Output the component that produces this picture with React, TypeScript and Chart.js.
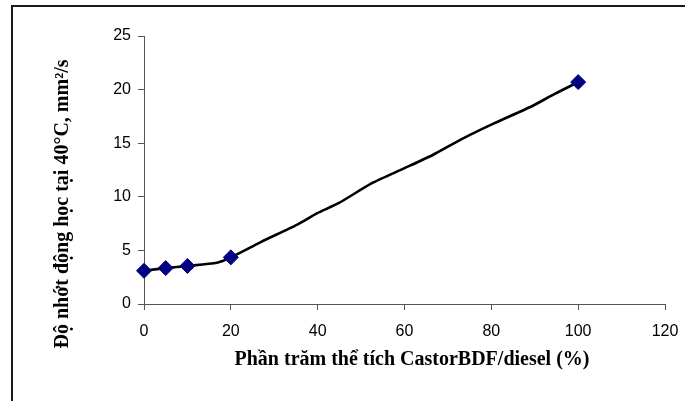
import React, { useEffect, useRef } from "react";
import { Chart, registerables } from "chart.js";

Chart.register(...registerables);

// Measured blends (% CastorBDF in diesel) and kinematic viscosity at 40°C (mm²/s)
const blendPercent = [0, 5, 10, 20, 100];
const viscosity = [3.1, 3.35, 3.55, 4.35, 20.7];

// Points of the drawn (smoothed) curve
const curvePercent = [0, 5, 10, 16.8, 20, 27, 35.3, 39.8, 44.8, 52.4, 59.9, 66.5, 73.5, 80.6, 89.1, 94.6, 100];
const curveViscosity = [3.1, 3.35, 3.55, 3.85, 4.35, 5.8, 7.4, 8.45, 9.4, 11.25, 12.65, 13.9, 15.45, 16.85, 18.4, 19.6, 20.7];

const xTicks = [0, 20, 40, 60, 80, 100, 120];
const yTicks = [0, 5, 10, 15, 20, 25];

const xTitle = "Phần trăm thể tích CastorBDF/diesel (%)";
const yTitle = "Độ nhớt động học tại 40°C, mm²/s";

const framePlugin = {
  id: "frameAndTitles",
  beforeDraw(chart: any) {
    const ctx = chart.ctx;
    ctx.save();
    ctx.fillStyle = "#ffffff";
    ctx.fillRect(0, 0, chart.width, chart.height);
    ctx.strokeStyle = "#1a1a1a";
    ctx.lineWidth = 2;
    ctx.beginPath();
    ctx.moveTo(12, chart.height);
    ctx.lineTo(12, 6);
    ctx.lineTo(chart.width, 6);
    ctx.stroke();
    ctx.restore();
  },
  afterDraw(chart: any) {
    const ctx = chart.ctx;
    const a = chart.chartArea;
    ctx.save();
    ctx.fillStyle = "#000000";
    ctx.font = "bold 20px 'Liberation Serif', 'Times New Roman', serif";
    ctx.textAlign = "center";
    ctx.textBaseline = "middle";
    ctx.fillText(xTitle, 412, a.bottom + 56);
    ctx.translate(a.left - 81, 204);
    ctx.rotate(-Math.PI / 2);
    ctx.fillText(yTitle, 0, 0);
    ctx.restore();
  },
};

export default function App() {
  const canvasRef = useRef<HTMLCanvasElement | null>(null);

  useEffect(() => {
    if (!canvasRef.current) return;
    const axisColor = "#555555";
    const tickFont = { family: "'Liberation Sans', Arial, sans-serif", size: 16 };
    const chart = new Chart(canvasRef.current, {
      type: "scatter",
      data: {
        datasets: [
          {
            label: "Đo",
            data: blendPercent.map((x, i) => ({ x, y: viscosity[i] })),
            showLine: false,
            pointStyle: "rectRot",
            pointRadius: 7.5,
            pointBackgroundColor: "#000080",
            pointBorderColor: "#000080",
            pointBorderWidth: 1,
            order: 0,
            clip: false,
          } as any,
          {
            label: "Đường cong",
            data: curvePercent.map((x, i) => ({ x, y: curveViscosity[i] })),
            showLine: true,
            borderColor: "#000000",
            borderWidth: 2.6,
            borderJoinStyle: "round",
            borderCapStyle: "round",
            pointRadius: 0,
            tension: 0.2,
            order: 1,
            clip: false,
          } as any,
        ],
      },
      options: {
        responsive: false,
        animation: false,
        events: [],
        layout: { padding: { left: 0, right: 20, top: 36, bottom: 0 } },
        plugins: { legend: { display: false }, tooltip: { enabled: false } },
        scales: {
          x: {
            type: "linear",
            min: 0,
            max: 120,
            afterBuildTicks: (s: any) => {
              s.ticks = xTicks.map((v) => ({ value: v }));
            },
            afterFit: (s: any) => {
              s.height = 97;
              s.paddingLeft = 0;
              s.paddingRight = 0;
            },
            border: { display: true, color: axisColor, width: 1 },
            grid: { drawOnChartArea: false, drawTicks: true, tickLength: 6, color: axisColor },
            ticks: { color: "#000", font: tickFont, padding: 12, maxRotation: 0 },
          },
          y: {
            type: "linear",
            min: 0,
            max: 25,
            afterBuildTicks: (s: any) => {
              s.ticks = yTicks.map((v) => ({ value: v }));
            },
            afterFit: (s: any) => {
              s.width = 144;
              s.paddingTop = 0;
              s.paddingBottom = 0;
            },
            border: { display: true, color: axisColor, width: 1 },
            grid: { drawOnChartArea: false, drawTicks: true, tickLength: 6, color: axisColor },
            ticks: { color: "#000", font: tickFont, padding: 7 },
          },
        },
      },
      plugins: [framePlugin],
    } as any);
    return () => chart.destroy();
  }, []);

  return (
    <div style={{ position: "absolute", left: 0, top: 0, width: 685, height: 401, background: "#fff" }}>
      <canvas ref={canvasRef} width={685} height={401} style={{ display: "block" }} />
    </div>
  );
}
